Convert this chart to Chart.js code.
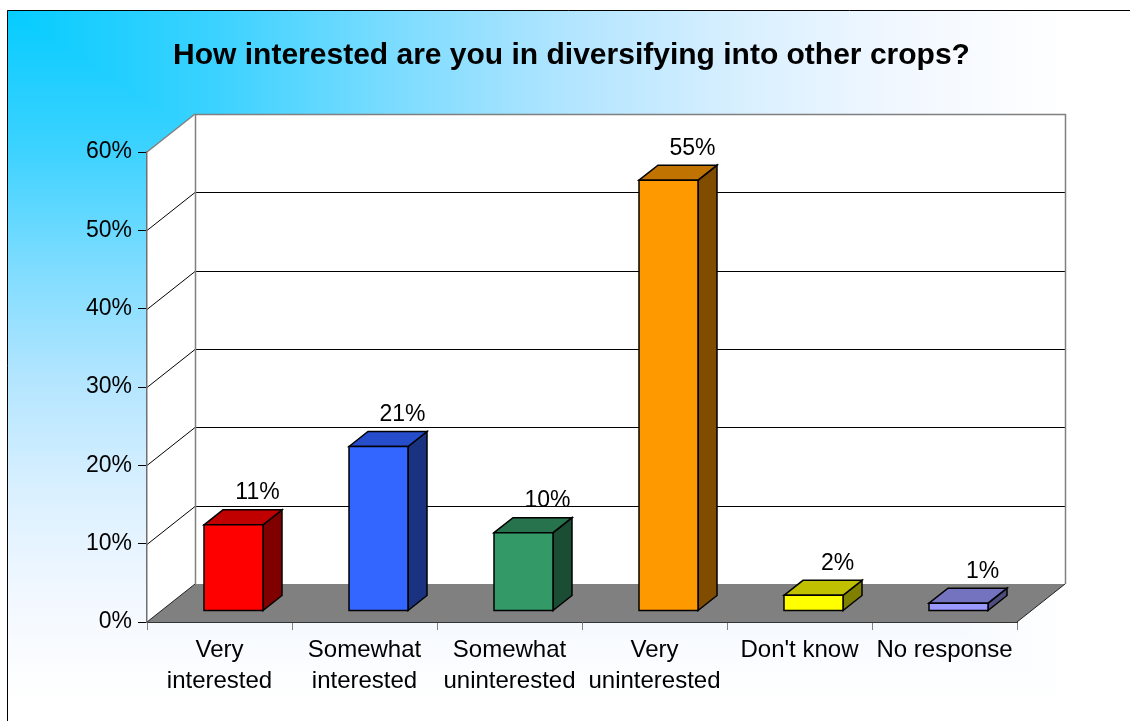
<!DOCTYPE html>
<html>
<head>
<meta charset="utf-8">
<script src="https://cdn.jsdelivr.net/npm/chart.js@4.4.0/dist/chart.umd.min.js"></script>
<style>
  html, body { margin: 0; padding: 0; background: #fff; }
  canvas { display: block; }
</style>
</head>
<body>
<canvas id="c" width="1130" height="721"></canvas>
<script>
// ---- data ----
const titleText = 'How interested are you in diversifying into other crops?';
const categories = [
  ['Very', 'interested'],
  ['Somewhat', 'interested'],
  ['Somewhat', 'uninterested'],
  ['Very', 'uninterested'],
  "Don't know",
  'No response'
];
const percentValues = [11, 21, 10, 55, 2, 1];
const yTickLabels = ['0%', '10%', '20%', '30%', '40%', '50%', '60%'];

// ---- bar face colours (front / top / side) ----
const frontColors = ['#FF0000', '#3366FF', '#339966', '#FF9900', '#FFFF00', '#9999FF'];
const topColors   = ['#C00000', '#264DCC', '#26734D', '#C07300', '#C0C000', '#7373C0'];
const sideColors  = ['#800000', '#1A3380', '#1A4D33', '#804C00', '#808000', '#4D4D80'];

const FONT = "'Liberation Sans', Arial, Helvetica, sans-serif";

// oblique projection offsets
const WALL_DX = 48, WALL_DY = 38;   // front plane -> back wall
const BAR_OX = 14, BAR_OY = 11;     // front plane -> bar front face
const BAR_DX = 19, BAR_DY = 15;     // bar depth

function poly(ctx, pts, fill, stroke, lw) {
  ctx.beginPath();
  ctx.moveTo(pts[0][0], pts[0][1]);
  for (let i = 1; i < pts.length; i++) ctx.lineTo(pts[i][0], pts[i][1]);
  ctx.closePath();
  if (fill) { ctx.fillStyle = fill; ctx.fill(); }
  if (stroke) { ctx.strokeStyle = stroke; ctx.lineWidth = lw || 1; ctx.stroke(); }
}

function line(ctx, x1, y1, x2, y2, color, lw) {
  ctx.beginPath();
  ctx.moveTo(x1, y1);
  ctx.lineTo(x2, y2);
  ctx.strokeStyle = color;
  ctx.lineWidth = lw || 1;
  ctx.stroke();
}

function addStops(g) {
  g.addColorStop(0.00, 'rgb(5,204,255)');
  g.addColorStop(0.20, 'rgb(60,210,255)');
  g.addColorStop(0.37, 'rgb(125,220,255)');
  g.addColorStop(0.53, 'rgb(178,229,255)');
  g.addColorStop(0.70, 'rgb(218,240,255)');
  g.addColorStop(0.85, 'rgb(242,248,255)');
  g.addColorStop(1.00, 'rgb(255,255,255)');
  return g;
}

const scene3d = {
  id: 'scene3d',
  beforeDraw(chart) {
    const ctx = chart.ctx;
    const W = chart.width, H = chart.height;
    ctx.save();
    ctx.fillStyle = '#fff';
    ctx.fillRect(0, 0, W, H);

    // corner gradient of the chart background: horizontal fade everywhere,
    // then the vertical fade below the diagonal
    const x0 = 7, y0 = 10, gw = 1060, gh = 690;
    const diagY = y0 + (W - x0) * gh / gw;
    ctx.fillStyle = addStops(ctx.createLinearGradient(x0, 0, x0 + gw, 0));
    ctx.fillRect(x0, y0, W - x0, H - y0);
    ctx.save();
    ctx.beginPath();
    ctx.moveTo(x0, y0); ctx.lineTo(W, diagY); ctx.lineTo(W, H); ctx.lineTo(x0, H); ctx.closePath();
    ctx.clip();
    ctx.fillStyle = addStops(ctx.createLinearGradient(0, y0, 0, y0 + gh));
    ctx.fillRect(x0, y0, W - x0, H - y0);
    ctx.restore();

    // walls and floor
    const ys = chart.scales.y;
    const L = chart.chartArea.left, R = chart.chartArea.right;
    const yTop = ys.getPixelForValue(ys.max), yBase = ys.getPixelForValue(0);

    poly(ctx, [[L + WALL_DX, yTop - WALL_DY], [R + WALL_DX, yTop - WALL_DY],
               [R + WALL_DX, yBase - WALL_DY], [L + WALL_DX, yBase - WALL_DY]], '#fff');
    poly(ctx, [[L, yTop], [L + WALL_DX, yTop - WALL_DY],
               [L + WALL_DX, yBase - WALL_DY], [L, yBase]], '#fff');

    // gridlines on back and side walls
    ys.ticks.forEach(t => {
      if (t.value <= 0 || t.value >= ys.max) return;
      const y = Math.round(ys.getPixelForValue(t.value)) + 0.5;
      line(ctx, L, y, L + WALL_DX, y - WALL_DY, '#000', 1);
      line(ctx, L + WALL_DX, y - WALL_DY, R + WALL_DX, y - WALL_DY, '#000', 1);
    });

    // floor
    poly(ctx, [[L, yBase], [L + WALL_DX, yBase - WALL_DY],
               [R + WALL_DX, yBase - WALL_DY], [R, yBase]], '#808080');
    line(ctx, L, yBase, L + WALL_DX, yBase - WALL_DY, '#222', 1);
    line(ctx, R, yBase, R + WALL_DX, yBase - WALL_DY, '#222', 1);

    // wall edges
    const bl = L + WALL_DX + 0.5, br = R + WALL_DX + 0.5, bt = yTop - WALL_DY + 0.5;
    ctx.beginPath();
    ctx.moveTo(bl, yBase - WALL_DY);
    ctx.lineTo(bl, bt);
    ctx.lineTo(br, bt);
    ctx.lineTo(br, yBase - WALL_DY);
    ctx.strokeStyle = '#808080';
    ctx.lineWidth = 1.5;
    ctx.stroke();
    line(ctx, L, yTop, L + WALL_DX, yTop - WALL_DY, '#808080', 1.5);
    ctx.restore();
  },
  afterDatasetsDraw(chart) {
    const ctx = chart.ctx;
    const ys = chart.scales.y;
    const meta = chart.getDatasetMeta(0);
    ctx.save();
    ctx.lineJoin = 'miter';
    meta.data.forEach((bar, i) => {
      const w = bar.width;
      const left = bar.x - w / 2 + BAR_OX;
      const right = left + w;
      const top = bar.y - BAR_OY;
      const bottom = bar.base - BAR_OY;
      // side face
      poly(ctx, [[right, top], [right + BAR_DX, top - BAR_DY],
                 [right + BAR_DX, bottom - BAR_DY], [right, bottom]], sideColors[i], '#000', 1.5);
      // top face
      poly(ctx, [[left, top], [left + BAR_DX, top - BAR_DY],
                 [right + BAR_DX, top - BAR_DY], [right, top]], topColors[i], '#000', 1.5);
      // front face
      poly(ctx, [[left, top], [right, top], [right, bottom], [left, bottom]], frontColors[i], '#000', 1.5);
    });
    // value labels
    ctx.fillStyle = '#000';
    ctx.font = '23px ' + FONT;
    ctx.textAlign = 'center';
    ctx.textBaseline = 'alphabetic';
    meta.data.forEach((bar, i) => {
      const v = percentValues[i];
      ctx.fillText(v + '%', bar.x + BAR_OX + 24, ys.getPixelForValue(v) - 36.5);
    });
    ctx.restore();
  },
  afterDraw(chart) {
    const ctx = chart.ctx;
    ctx.save();
    ctx.fillStyle = '#000';
    ctx.font = 'bold 30px ' + FONT;
    ctx.textAlign = 'center';
    ctx.textBaseline = 'alphabetic';
    ctx.fillText(titleText, 571.5, 64);
    // chart frame
    ctx.strokeStyle = '#000';
    ctx.lineWidth = 1;
    ctx.beginPath();
    ctx.moveTo(7.5, chart.height);
    ctx.lineTo(7.5, 10.5);
    ctx.lineTo(chart.width, 10.5);
    ctx.stroke();
    ctx.restore();
  }
};

new Chart(document.getElementById('c'), {
  type: 'bar',
  data: {
    labels: categories,
    datasets: [{
      data: percentValues,
      backgroundColor: 'rgba(0,0,0,0)',
      borderWidth: 0,
      categoryPercentage: 1,
      barPercentage: 59 / 145
    }]
  },
  options: {
    responsive: false,
    animation: false,
    devicePixelRatio: 1,
    layout: { padding: { top: 152, left: 0, right: 113, bottom: 0 } },
    plugins: {
      legend: { display: false },
      tooltip: { enabled: false },
      title: { display: false }
    },
    scales: {
      x: {
        grid: { drawOnChartArea: false, offset: true, tickLength: 8, color: '#808080' },
        border: { color: '#333', width: 1 },
        ticks: {
          color: '#000',
          font: { family: FONT, size: 24, lineHeight: 1.3 },
          padding: 5,
          maxRotation: 0,
          autoSkip: false
        },
        afterFit(s) { s.height = 99; }
      },
      y: {
        min: 0,
        max: 60,
        ticks: {
          stepSize: 10,
          color: '#000',
          font: { family: FONT, size: 23 },
          padding: 6,
          callback: (v, i) => yTickLabels[i]
        },
        grid: { drawOnChartArea: false, tickLength: 9, color: '#000' },
        border: { color: '#707070', width: 1.5 },
        afterFit(s) { s.width = 147; }
      }
    }
  },
  plugins: [scene3d]
});
</script>
</body>
</html>
